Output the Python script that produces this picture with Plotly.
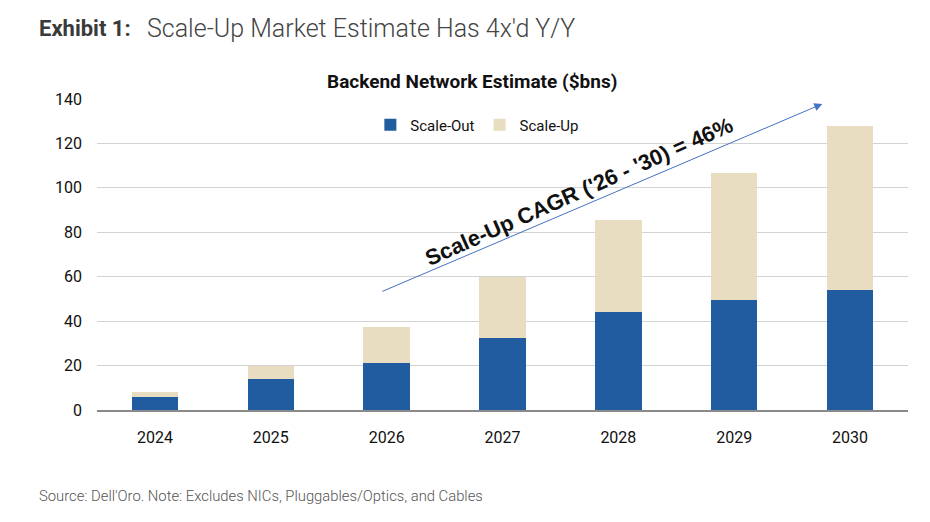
import plotly.graph_objects as go

years = ["2024", "2025", "2026", "2027", "2028", "2029", "2030"]
scale_out = [6, 14, 21, 32.5, 44, 49.5, 54]
scale_up = [2, 6, 16.5, 27.5, 41.5, 57, 74]
y_ticks = [0, 20, 40, 60, 80, 100, 120, 140]

BLUE = "#215BA0"
TAN = "#E8DDC0"
COND = "Liberation Sans Narrow, Roboto, Arial"

fig = go.Figure()
fig.add_trace(go.Bar(x=years, y=scale_out, name="Scale-Out", marker=dict(color=BLUE, line=dict(width=0))))
fig.add_trace(go.Bar(x=years, y=scale_up, name="Scale-Up", marker=dict(color=TAN, line=dict(width=0))))

fig.update_layout(
    barmode="stack",
    bargap=0.6,
    width=930, height=522,
    margin=dict(l=97, r=22, t=99, b=112),
    paper_bgcolor="white", plot_bgcolor="white",
    showlegend=True,
    legend=dict(orientation="h", x=0.469, xanchor="center", y=0.916, yanchor="middle",
                font=dict(family=COND, size=15, color="#111"), itemwidth=30,
                traceorder="normal"),
    font=dict(family=COND, size=15, color="#111"),
)
fig.update_xaxes(type="category", showgrid=False, showline=True, linecolor="#8a8a8a", linewidth=2,
                 ticks="", tickfont=dict(family=COND, size=16, color="#111"), ticklabelstandoff=12)
fig.update_yaxes(range=[0, 140], tickvals=y_ticks, showgrid=True, gridcolor="#D3D3D3", gridwidth=1,
                 zeroline=False, showline=False, ticks="",
                 tickfont=dict(family=COND, size=16, color="#111"), ticklabelstandoff=14)

# chart title
fig.add_annotation(text="<b>Backend Network Estimate ($bns)</b>", xref="paper", yref="paper",
                   x=0.462, y=1.055, xanchor="center", yanchor="middle", showarrow=False,
                   font=dict(family=COND, size=19, color="#111"))
# exhibit header
fig.add_annotation(text="<b>Exhibit 1:</b>", xref="paper", yref="paper", x=-0.0745, y=1.228,
                   xanchor="left", yanchor="middle", showarrow=False,
                   font=dict(family="Roboto", size=22, color="#3a3a3a"))
fig.add_annotation(text="Scale-Up Market Estimate Has 4x'd Y/Y", xref="paper", yref="paper",
                   x=0.059, y=1.228, xanchor="left", yanchor="middle", showarrow=False,
                   font=dict(family="Roboto", size=25, color="#444", weight=300))
# footer
fig.add_annotation(text="Source: Dell'Oro. Note: Excludes NICs, Pluggables/Optics, and Cables",
                   xref="paper", yref="paper", x=-0.0745, y=-0.276, xanchor="left", yanchor="middle",
                   showarrow=False, font=dict(family="Roboto", size=14.8, color="#555", weight=300))
# CAGR arrow
fig.add_annotation(x=5.76, y=137.8, ax=1.95, ay=53.1, xref="x", yref="y", axref="x", ayref="y",
                   text="", showarrow=True, arrowhead=2, arrowsize=1.6, arrowwidth=1,
                   arrowcolor="#4472C4")
fig.add_annotation(x=3.66, y=98.5, xref="x", yref="y", text="<b>Scale-Up CAGR ('26 - '30) = 46%</b>",
                   showarrow=False, textangle=-24,
                   font=dict(family="Liberation Sans, Arial", size=22, color="#111"))

fig.write_html("out.html")
